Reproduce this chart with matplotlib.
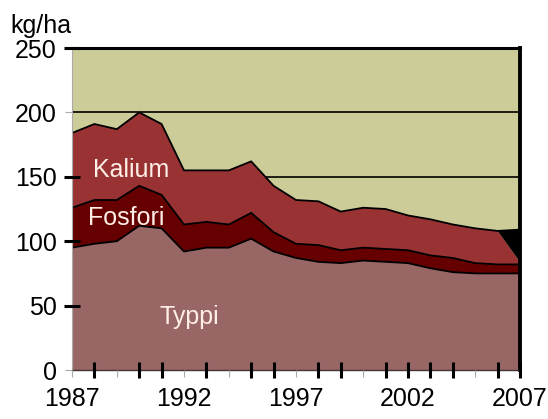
import matplotlib
matplotlib.use("Agg")
import matplotlib.pyplot as plt

plt.rcParams['font.family'] = ['Liberation Sans', 'DejaVu Sans']

years = list(range(1987, 2008))
typpi = [95, 98, 100, 112, 110, 92, 95, 95, 102, 92, 87, 84, 83, 85, 84, 83, 79, 76, 75, 75, 75]
fosfori = [31, 34, 32, 31, 26, 21, 20, 18, 20, 15, 11, 13, 10, 10, 10, 10, 10, 11, 8, 7, 7]
kalium = [58, 59, 55, 57, 55, 42, 40, 42, 40, 36, 34, 34, 30, 31, 31, 27, 28, 26, 27, 26, 2]
# the dark wedge at the end of the series
extra = [0] * 20 + [25]

yticks = [0, 50, 100, 150, 200, 250]
year_labels = [str(y) if (y - 1987) % 5 == 0 else '' for y in years]
black_xticks = [1988, 1990, 1991, 1993, 1995, 1996, 1998, 1999, 2001, 2002, 2003, 2004, 2006, 2007]
black_yticks = [50, 100, 150, 250]
grid_lines = [150, 200]

fig = plt.figure(figsize=(5.48, 4.19), dpi=100)
ax = fig.add_axes([0.1314, 0.1169, 0.8175, 0.7685])
ax.set_facecolor('#CCCC99')
ax.set_axisbelow(False)

# horizontal lines sit behind the areas
for g in grid_lines:
    ax.axhline(g, color='black', lw=1.2, zorder=1)

ax.stackplot(years, typpi, fosfori, kalium, extra,
             colors=['#996666', '#660000', '#993333', '#000000'], zorder=2)

# dark edge along the top of each layer
c1 = [t for t in typpi]
c2 = [t + f for t, f in zip(typpi, fosfori)]
c3 = [t + f + k + e for t, f, k, e in zip(typpi, fosfori, kalium, extra)]
for c in (c1, c2, c3):
    ax.plot(years, c, color='black', lw=1.3, zorder=2.2)

ax.set_xlim(1987, 2007)
ax.set_ylim(0, 250)

ax.set_yticks(yticks)
ax.set_xticks(years, year_labels)
ax.tick_params(which='major', direction='out', length=5, width=0.8, color='#aaaaaa',
               labelsize=18, pad=6)
ax.tick_params(axis='x', which='major', pad=7)

# some ticks are thick black marks crossing the axis
def make_black(tick, marker):
    ln = tick.tick1line
    ln.set_marker(marker)
    ln.set_markersize(11)
    ln.set_markeredgewidth(2.2)
    ln.set_markeredgecolor('black')
    ln.set_color('black')

for loc, tick in zip(years, ax.xaxis.get_major_ticks()):
    if loc in black_xticks:
        make_black(tick, '|')
for loc, tick in zip(yticks, ax.yaxis.get_major_ticks()):
    if loc in black_yticks:
        make_black(tick, '_')

ax.spines['top'].set_linewidth(2.2)
ax.spines['right'].set_linewidth(2.8)
ax.spines['left'].set_color('#aaaaaa')
ax.spines['left'].set_linewidth(0.8)
ax.spines['bottom'].set_color('#443333')
ax.spines['bottom'].set_linewidth(1.0)

# series names inside the areas
ax.text(1987.95, 155, 'Kalium', color='#FFEEE6', fontsize=18, va='center', zorder=4)
ax.text(1987.7, 118, 'Fosfori', color='#FFEEE6', fontsize=18, va='center', zorder=4)
ax.text(1990.9, 41, 'Typpi', color='#FFEEE6', fontsize=18, va='center', zorder=4)

fig.text(10 / 548, 1 - 26 / 419, 'kg/ha', fontsize=18, va='center', ha='left')

fig.savefig('out.png', dpi=100)
